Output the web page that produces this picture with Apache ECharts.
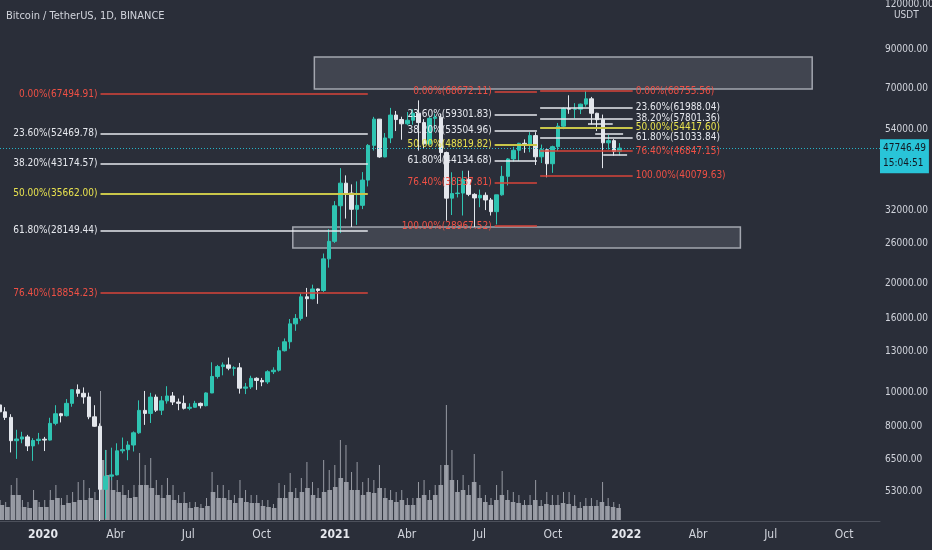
<!DOCTYPE html>
<html><head><meta charset="utf-8">
<script src="https://cdn.jsdelivr.net/npm/echarts@6/dist/echarts.min.js"></script>
<style>html,body{margin:0;padding:0;background:#2a2e39;}#c{width:932px;height:550px;}</style>
</head><body><div id="c"></div>
<script>
// ---------- DATA ----------
const firstWeek = '2019-11-04'; // Monday of the first weekly candle
const open  = [9206,8809,8500,7320,7400,7500,7080,7330,7390,
  7350,8180,8700,8590,9300,10150,9920,9690,8530,8030,5360,5830,5880,6860,6910,7120,7700,8890,8720,9680,8900,9450,9750,9380,9300,9010,9070,9300,9160,9940,11050,11770,11900,11650,11680,10250,10330,10920,10770,10670,11390,11500,13030,13800,15480,16030,18410,18190,19360,19170,23480,26270,
  33000,38150,35800,32260,33090,38900,48600,57500,45130,50970,59020,57350,55800,57100,59750,56250,49070,57800,58240,46420,34650,35680,35800,39100,35500,34700,35290,34250,31780,35400,39850,44550,47100,49250,48800,51750,45170,47250,43200,48200,54950,61550,61300,61300,63300,65500,59700,57300,49400,50100,46700];
const high  = [9505,9075,8675,7850,7750,7600,7440,7695,7500,
  8480,9190,8750,9560,10150,10500,10300,9960,9190,8180,6900,7000,7200,7470,7300,7770,9480,10070,9950,9840,9740,10380,10000,9590,9780,9300,9450,9350,9980,12100,11900,12090,12470,11800,12050,10600,11100,10990,10950,11500,11720,13350,14100,15970,16480,18800,19490,19900,19420,24300,28420,34000,
  42000,40100,37850,38580,40950,49000,58350,57550,52600,61800,60600,58400,60200,61200,64850,57500,58450,59600,59500,46700,40900,39500,41300,41330,35750,36600,35950,34700,35400,42600,44800,48150,49400,50500,52900,52900,48850,47350,48500,56100,62000,67000,63700,63500,69000,66300,59900,59200,51950,50600,49300];
const low   = [8735,8360,6790,6515,7200,6850,6435,7150,6850,
  7330,8080,8230,8550,9100,9700,9280,8400,8000,3780,4440,5680,5860,6750,6460,6830,7650,8100,8200,8800,8630,9280,9200,8900,8940,8900,9050,9000,9120,9930,10900,11130,11500,11100,9900,9870,10200,10140,10380,10530,11220,11400,12970,13200,14800,15800,16200,18110,17600,19000,22200,26000,
  27700,30400,28800,29200,32300,37350,47000,44900,45000,49300,53270,50400,55300,55500,47000,47500,48800,53000,43800,30000,31100,34800,31000,35100,28800,32700,32100,31000,29280,35200,37600,43800,43950,46350,46500,42850,43400,39600,40750,46900,53900,59500,57800,59400,62300,55600,53250,42000,47300,45500,45600];
const close = [8809,8500,7320,7400,7500,7080,7330,7390,7350,
  8180,8700,8590,9300,10150,9920,9690,8530,8030,5360,5830,5880,6860,6910,7120,7700,8890,8720,9680,8900,9450,9750,9380,9300,9010,9070,9300,9160,9940,11050,11770,11900,11650,11680,10250,10330,10920,10770,10670,11390,11500,13030,13800,15480,16030,18410,18190,19360,19170,23480,26270,33000,
  38150,35800,32260,33090,38900,48600,57500,45130,50970,59020,57350,55800,57100,59750,56250,49070,57800,58240,46420,34650,35680,35800,39100,35500,34700,35290,34250,31780,35400,39850,44550,47100,49250,48800,51750,45170,47250,43200,48200,54950,61550,61300,61300,63300,65500,59700,57300,49400,50100,46700,47746.49];
// volume, thousand BTC per day: typical day of the week / busiest day of the week
const volAvg = [45,39,75,75,39,36,60,39,39,
  60,66,45,51,54,60,60,66,60,180,135,90,84,75,66,69,105,105,96,75,66,75,60,51,51,36,39,36,42,84,66,66,60,51,66,54,51,51,42,39,36,66,66,84,66,84,96,75,66,84,90,99,
  126,114,90,90,75,84,81,96,66,60,54,60,45,45,66,75,60,75,105,165,120,84,90,75,114,66,54,45,60,75,60,54,51,45,45,60,42,48,45,45,51,48,42,36,42,42,42,54,42,39,36];
const volPeak = [60,54,105,126,60,54,90,54,60,
  90,105,66,75,84,114,120,96,84,387,210,135,120,105,90,105,201,165,186,120,105,126,105,75,84,54,54,48,66,144,105,105,90,75,120,90,75,75,60,60,48,111,105,141,96,126,174,114,96,180,150,165,
  240,225,144,174,114,126,120,165,96,90,84,90,66,66,114,120,90,105,165,345,210,120,135,105,198,105,75,66,105,147,90,84,75,60,75,120,60,84,75,75,84,84,75,54,66,66,60,114,66,54,48];
const lastPrice = 47746.49;
const countdown = '15:04:51';
// price scale labels
const priceTicks = [5300,6500,8000,10000,13000,16000,20000,26000,32000,42000,54000,70000,90000,120000];
const monthNames = ['Ene','Feb','Mar','Abr','May','Jun','Jul','Ago','Sep','Oct','Nov','Dic'];
// Fibonacci retracements (levels in %, prices)
const fib1Pct   = [0,23.6,38.2,50,61.8,76.4];
const fib1Price = [67494.91,52469.78,43174.57,35662.00,28149.44,18854.23];
const fib1Span  = ['2020-03-13','2021-02-11'];
const fib2Pct   = [0,23.6,38.2,50,61.8,76.4,100];
const fib2Price = [68672.11,59301.83,53504.96,48819.82,44134.68,38337.81,28967.52];
const fib2Span  = ['2021-07-20','2021-09-11'];
const fib3Pct   = [0,23.6,38.2,50,61.8,76.4,100];
const fib3Price = [68755.56,61988.04,57801.36,54417.60,51033.84,46847.15,40079.63];
const fib3Span  = ['2021-09-15','2022-01-09'];
// zones (rectangles): [start date, end date, upper price, lower price]
const zoneTop    = ['2020-12-06','2022-08-22',85600,69750];
const zoneBottom = ['2020-11-09','2022-05-24',28800,25170];
// short horizontal drawings: [start date, end date, price]
const marks = [['2021-11-14','2021-12-15',55730],['2021-11-23','2021-12-28',52270],['2021-12-03','2022-01-02',45700]];
const xRange = ['2019-11-08','2022-11-15'];
const yRange = [4375,123400];

// ---------- BUILD ----------
const DAY = 86400000;
const ts = s => Date.parse(s + 'T00:00:00Z');
const FONT = "'DejaVu Sans Condensed','DejaVu Sans',sans-serif";
const TXT = '#d1d4dc';
const BG = '#2a2e39';
const weekX = open.map((_, i) => ts(firstWeek) + i * 7 * DAY + 3.5 * DAY);
const candles = weekX.map((t, i) => [t, open[i], close[i], low[i], high[i]]);
const vAvg = weekX.map((t, i) => [t, volAvg[i]]);
const vPeak = weekX.map((t, i) => [t, volPeak[i]]);

function fibStyle(p) {
  if (p === 50) return {line: '#c9c64a', text: '#e8e24f', w: 2};
  if (p === 0 || p >= 76) return {line: '#d8443a', text: '#ef5045', w: 1.5};
  return {line: '#e6e8ee', text: '#e6e8ee', w: 1.5};
}
function fibLines(pcts, prices, span, side) {
  return pcts.map((p, i) => {
    const s = fibStyle(p);
    return [
      {coord: [ts(span[0]), prices[i]], lineStyle: {color: s.line, width: s.w, type: 'solid'},
       label: {show: true, position: side, distance: 3, formatter: p.toFixed(2) + '%(' + prices[i].toFixed(2) + ')',
               color: s.text, fontSize: 10, fontFamily: FONT}},
      {coord: [ts(span[1]), prices[i]]}
    ];
  });
}
const markLines = []
  .concat(fibLines(fib1Pct, fib1Price, fib1Span, 'start'))
  .concat(fibLines(fib2Pct, fib2Price, fib2Span, 'start'))
  .concat(fibLines(fib3Pct, fib3Price, fib3Span, 'end'))
  .concat(marks.map(m => [{coord: [ts(m[0]), m[2]], lineStyle: {color: '#e6e8ee', width: 1.5, type: 'solid'}, label: {show: false}},
                          {coord: [ts(m[1]), m[2]]}]));
markLines.push({
  yAxis: lastPrice,
  lineStyle: {color: '#26b5c9', width: 1, type: [1, 2]},
  label: {show: true, position: 'end', distance: 0, formatter: lastPrice.toFixed(2) + '\n' + countdown,
          backgroundColor: '#29c4d8', color: '#131722', fontSize: 10, fontFamily: FONT, lineHeight: 15,
          padding: [2, 3, 2, 3], align: 'left', verticalAlign: 'top', offset: [0, -9]}
});
const zone = z => [{coord: [ts(z[0]), z[2]]}, {coord: [ts(z[1]), z[3]]}];

const xCommon = {
  type: 'time', min: ts(xRange[0]), max: ts(xRange[1]), splitNumber: 12,
  minInterval: 92 * DAY, maxInterval: 100 * DAY, splitLine: {show: false}
};

const option = {
  backgroundColor: BG,
  animation: false,
  useUTC: true,
  title: {text: 'Bitcoin / TetherUS, 1D, BINANCE', left: 6, top: 11, padding: 0,
          textStyle: {color: TXT, fontSize: 11, fontWeight: 'normal', fontFamily: FONT}},
  grid: [
    {left: 0, right: 52, top: 0, bottom: 29, outerBoundsMode: 'none', containLabel: false},
    {left: 0, right: 52, top: 380, bottom: 30, outerBoundsMode: 'none', containLabel: false}
  ],
  xAxis: [
    Object.assign({}, xCommon, {gridIndex: 0, z: 20,
      axisLine: {show: true, lineStyle: {color: '#4c505b', width: 1}},
      axisTick: {show: false},
      axisLabel: {color: TXT, fontSize: 12, fontFamily: FONT, margin: 8, showMinLabel: false, showMaxLabel: false,
        formatter: v => { const d = new Date(v); const m = d.getUTCMonth();
          return m === 0 ? '{y|' + d.getUTCFullYear() + '}' : monthNames[m]; },
        rich: {y: {color: '#e6e8ee', fontSize: 12, fontWeight: 'bold', fontFamily: FONT}}}
    }),
    Object.assign({}, xCommon, {gridIndex: 1, show: false}),
    Object.assign({}, xCommon, {gridIndex: 1, show: false})
  ],
  yAxis: [
    {type: 'log', logBase: 10, gridIndex: 0, position: 'right', min: yRange[0], max: yRange[1],
     axisLine: {show: false}, axisTick: {show: false}, splitLine: {show: false},
     axisLabel: {customValues: priceTicks, formatter: v => Number(v).toFixed(2), color: TXT, fontSize: 10,
                 fontFamily: FONT, margin: 5, align: 'left'}},
    {type: 'value', gridIndex: 1, min: 0, max: 420, show: false}
  ],
  graphic: [
    {type: 'text', left: 894, top: 10, style: {text: 'USDT', fill: TXT, font: '10px ' + FONT}},
    // time-scale strip: keeps wicks that run past the pane bottom from spilling into it
    {type: 'rect', z: 15, silent: true, shape: {x: 0, y: 521, width: 880, height: 29}, style: {fill: BG}}
  ],
  series: [
    {type: 'bar', xAxisIndex: 1, yAxisIndex: 1, data: vAvg, barWidth: 4.6, silent: true, z: 1,
     itemStyle: {color: 'rgba(160,163,171,0.92)'}},
    {type: 'bar', xAxisIndex: 2, yAxisIndex: 1, data: vPeak, barWidth: 1, silent: true, z: 1,
     itemStyle: {color: 'rgba(160,163,171,0.92)'}},
    {type: 'candlestick', xAxisIndex: 0, yAxisIndex: 0, data: candles, barWidth: 4, clip: true, z: 3,
     itemStyle: {color: '#2fc4b2', color0: '#e3e6ec', borderColor: '#2fc4b2', borderColor0: '#e3e6ec', borderWidth: 1},
     markArea: {silent: true,
       itemStyle: {color: 'rgba(125,128,140,0.28)', borderColor: '#a3a6af', borderWidth: 1.5},
       data: [zone(zoneTop), zone(zoneBottom)]},
     markLine: {silent: true, symbol: ['none', 'none'], animation: false, data: markLines}
    }
  ]
};
const chart = echarts.init(document.getElementById('c'));
chart.setOption(option);
</script></body></html>
